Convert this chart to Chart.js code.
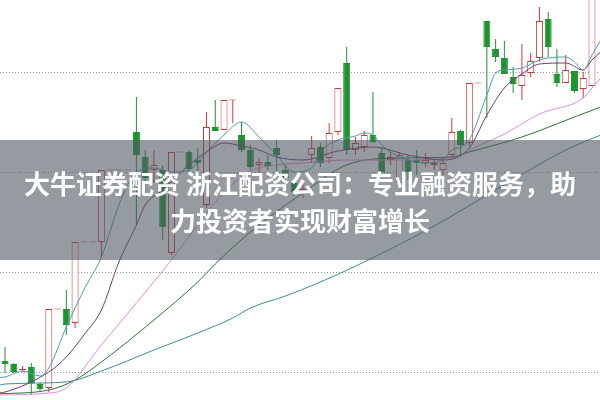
<!DOCTYPE html>
<html><head><meta charset="utf-8">
<script src="https://cdn.jsdelivr.net/npm/chart.js@4.4.0/dist/chart.umd.min.js"></script>
<style>
html,body{margin:0;padding:0;background:#fff;}
#wrap{position:relative;width:600px;height:400px;overflow:hidden;}
#band{position:absolute;left:0;top:140px;width:600px;height:120px;background:rgba(80,86,98,0.6);}
#title{position:absolute;left:0;top:164px;width:600px;text-align:center;color:#fff;font-family:"Noto Sans CJK SC","Noto Sans",sans-serif;font-weight:bold;font-size:26px;line-height:37px;letter-spacing:0px;}
</style></head><body>
<div id="wrap"><canvas id="c" width="600" height="400"></canvas><div id="band"></div><div id="title">大牛证券配资 浙江配资公司：专业融资服务，助<br>力投资者实现财富增长</div></div>
<script>
// candle data (price), index = trading day
const opens  = [6.11,6.08,6.02,6.05,5.88,5.84,6.63,6.63,6.49,7.30,7.30,7.30,8.02,8.02,8.02,8.40,8.15,8.02,8.02,7.19,8.20,8.20,8.12,7.67,8.45,8.42,8.72,8.37,8.22,8.07,8.10,8.24,8.02,7.89,7.80,8.17,8.25,8.14,8.40,9.09,8.22,8.25,8.37,8.19,8.12,7.89,8.12,8.12,8.09,8.07,8.02,8.17,8.41,8.29,8.89,9.51,9.23,9.14,8.95,8.86,8.99,9.14,9.53,8.98,8.89,9.01,8.83,8.86];
const highs  = [6.25,6.09,6.06,6.09,5.90,6.63,6.63,6.82,7.30,7.30,7.30,8.02,8.02,8.02,8.02,8.75,8.22,8.22,8.07,8.20,8.20,8.22,8.24,8.60,8.72,8.72,8.72,8.50,8.27,8.14,8.17,8.32,8.07,7.92,7.90,8.36,8.29,8.49,8.84,9.25,8.35,8.41,8.80,8.25,8.20,8.20,8.17,8.22,8.19,8.12,8.14,8.54,8.42,8.89,8.89,9.51,9.33,9.31,9.05,9.28,9.19,9.65,9.60,9.23,9.17,9.01,9.00,9.82];
const lows   = [5.99,5.99,6.00,5.77,5.81,5.80,6.63,6.37,6.44,7.30,7.30,7.14,8.02,8.02,8.02,7.47,7.77,7.89,7.32,7.17,8.20,8.00,7.97,7.64,8.41,8.42,8.49,8.20,8.02,8.00,8.02,7.99,7.90,7.76,7.74,8.09,8.05,8.09,8.37,8.17,8.17,8.20,8.29,7.99,8.07,7.85,7.92,7.97,8.05,8.02,7.97,8.15,8.17,8.26,8.89,8.54,9.10,8.98,8.79,8.72,8.95,9.10,9.15,8.85,8.89,8.79,8.74,8.86];
const closes = [6.08,6.00,6.03,5.89,5.83,6.63,6.63,6.47,7.30,7.30,7.30,8.02,8.02,8.02,8.02,8.17,7.94,8.07,7.45,8.20,8.20,8.03,8.09,8.45,8.41,8.72,8.72,8.22,8.05,8.10,8.06,8.17,7.94,7.80,7.83,8.24,8.09,8.39,8.84,8.22,8.29,8.37,8.30,8.00,8.15,8.17,8.00,8.09,8.12,8.09,8.09,8.40,8.27,8.89,8.89,9.25,9.15,8.98,8.88,8.97,9.11,9.51,9.25,8.89,9.02,8.81,8.94,9.77];
// moving averages: [day, price]
const ma5  = [[-1,5.94],[0,5.95],[2,6.01],[4,5.96],[5,6.04],[7,6.45],[9,6.82],[11,7.15],[13,7.67],[15,8.00],[17,8.04],[19,8.00],[21,8.02],[23,8.20],[25,8.37],[27,8.50],[29,8.35],[31,8.17],[33,8.00],[35,8.04],[36,8.20],[38,8.32],[40,8.36],[41,8.39],[42,8.37],[43,8.27],[44,8.20],[46,8.12],[48,8.09],[50,8.12],[51,8.22],[52,8.25],[53,8.32],[55,8.77],[56,8.99],[57,9.02],[59,9.04],[61,9.12],[62,9.14],[64,9.15],[65,9.10],[66,9.02],[67,9.17],[68,9.32]];
const ma10 = [[-1,5.79],[0,5.80],[5,6.00],[7,6.15],[9,6.37],[11,6.62],[13,7.10],[15,7.47],[16,7.67],[18,7.82],[21,8.07],[23,8.20],[25,8.29],[27,8.26],[29,8.22],[31,8.15],[34,8.12],[38,8.21],[42,8.25],[46,8.17],[50,8.12],[53,8.24],[55,8.57],[57,8.84],[59,8.98],[61,9.08],[64,9.09],[66,9.02],[67,9.12],[68,9.20]];
const ma20 = [[-1,5.77],[5,5.79],[7,5.84],[11,6.27],[15,6.69],[19,7.12],[22,7.47],[24,7.70],[28,8.01],[31,8.07],[34,8.09],[39,8.12],[45,8.12],[51,8.14],[54,8.26],[57,8.38],[61,8.58],[66,8.74],[67,8.84],[68,8.94]];
const ma30 = [[-1,5.78],[5,5.82],[8,5.92],[11,6.10],[17,6.52],[22,6.90],[24,7.08],[28,7.40],[34,7.79],[39,8.07],[45,8.14],[51,8.15],[53,8.20],[59,8.35],[65,8.55],[68,8.65]];
const ma60 = [[-1,5.86],[0,5.88],[7,5.90],[11,6.01],[17,6.22],[22,6.39],[26,6.54],[28,6.64],[32,6.76],[36,6.90],[41,7.10],[49,7.46],[56,7.82],[64,8.22],[68,8.37]];
const gridTicks = [6, 7, 8, 9];

const RED = '#d8343c', GREEN = '#1e9430';
const up = opens.map((o,i) => closes[i] >= o);
const bodies = opens.map((o,i) => {
  let lo = Math.min(o, closes[i]), hi = Math.max(o, closes[i]);
  if (hi - lo < 0.01) { lo -= 0.005; hi += 0.005; }
  return {x: i, y: [lo, hi]};
});
const wicks = opens.map((o,i) => ({x: i, y: [lows[i], highs[i]]}));
const toPts = a => a.map(p => ({x: p[0], y: p[1]}));
const lineDs = (d, color) => ({type:'line', data: toPts(d), borderColor: color, borderWidth: 1, pointRadius: 0, cubicInterpolationMode: 'monotone', fill: false, order: 0});

new Chart(document.getElementById('c'), {
  type: 'bar',
  data: {
    datasets: [
      lineDs(ma5, '#4f9db3'),
      lineDs(ma10, '#733a72'),
      lineDs(ma20, '#e68be3'),
      lineDs(ma30, '#2c7636'),
      lineDs(ma60, '#3c8d9c'),
      {data: bodies, order: 1, grouped: false, barThickness: 7, borderWidth: 1, borderSkipped: false, inflateAmount: 0,
        backgroundColor: up.map(u => u ? '#ffffff' : GREEN), borderColor: up.map(u => u ? RED : GREEN)},
      {data: wicks, order: 2, grouped: false, barThickness: 1, borderWidth: 0, inflateAmount: 0,
        backgroundColor: up.map(u => u ? RED : GREEN)}
    ]
  },
  options: {
    responsive: false, animation: false, events: [],
    layout: {padding: 0},
    plugins: {legend: {display: false}, tooltip: {enabled: false}},
    scales: {
      x: {type: 'linear', display: false, min: -0.571, max: 67.915, offset: false},
      y: {min: 5.72, max: 9.72,
        afterBuildTicks: s => { s.ticks = gridTicks.map(v => ({value: v})); },
        ticks: {display: false}, grid: {color: '#9a9a9a', lineWidth: 1, drawTicks: false},
        border: {display: false, dash: [1, 2]}}
    }
  }
});
</script>
</body></html>
